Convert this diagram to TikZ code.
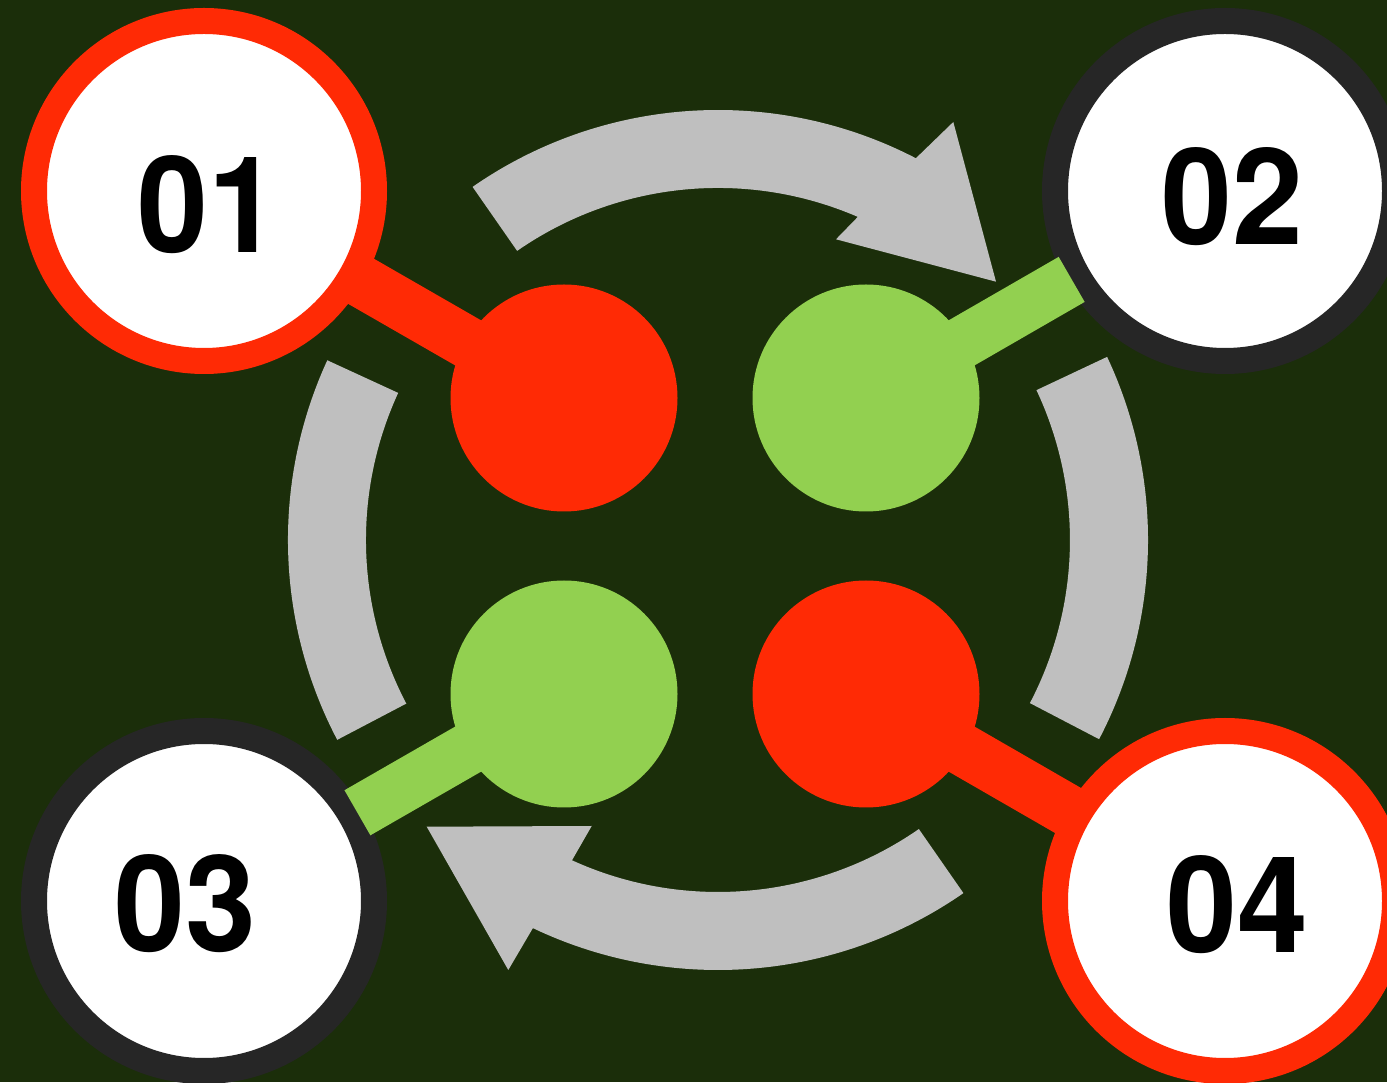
\documentclass[tikz,border=0pt]{standalone}
\usepackage{fontspec}
\setmainfont{TeX Gyre Heros}
\newfontfamily\numfont[FakeStretch=0.95]{TeX Gyre Heros}
\usetikzlibrary{calc}
\definecolor{bgc}{HTML}{1B2E0A}
\definecolor{cred}{HTML}{FF2A05}
\definecolor{cgreen}{HTML}{92D050}
\definecolor{cgray}{HTML}{BFBFBF}
\definecolor{cdark}{HTML}{262626}
\pgfdeclarelayer{back}
\pgfdeclarelayer{mid}
\pgfsetlayers{back,mid,main}
\begin{document}
\begin{tikzpicture}[x=1pt,y=1pt,
  bigc/.style={circle, draw=#1, line width=26pt, fill=white, minimum size=340pt, inner sep=0pt, outer sep=0pt},
  smallc/.style={circle, fill=#1, minimum size=227pt, inner sep=0pt, outer sep=0pt},
  barline/.style={draw=#1, line width=52pt},
  numlabel/.style={font=\numfont\fontsize{134}{134}\selectfont\bfseries, text=black, inner sep=0pt, anchor=base},
  cyclearrow/.style={fill=cgray}]
\useasboundingbox (0,0) rectangle (1387,1082);
\clip (0,0) rectangle (1387,1082);
\begin{pgfonlayer}{back}
\fill[bgc] (0,0) rectangle (1387,1082);
% top arrow
\path[cyclearrow] (472.6,895.1) arc[start angle=124.8, end angle=62.6, radius=430]
  -- (953.3,960) -- (996,800.3) -- (836,842.7) -- (857.8,865.1)
  arc[start angle=66.6, end angle=124.8, radius=352] -- cycle;
% bottom arrow
\path[cyclearrow] (963.4,188.9) arc[start angle=-55.2, end angle=-115.5, radius=430]
  -- (508.3,112) -- (426.7,255.3) -- (591.7,256) -- (572.0,221.7)
  arc[start angle=-114.5, end angle=-55.2, radius=352] -- cycle;
% left segment
\path[cyclearrow] (327.3,721.7) arc[start angle=155.3, end angle=207.7, radius=430]
  -- (406.3,378.4) arc[start angle=207.7, end angle=155.3, radius=352] -- cycle;
% right segment
\path[cyclearrow] (1107.1,725.1) arc[start angle=25.2, end angle=-27.6, radius=430]
  -- (1029.9,378.9) arc[start angle=-27.6, end angle=25.2, radius=352] -- cycle;
% big circles
\node[bigc=cred]  (n1) at (204,891) {};
\node[bigc=cdark] (n2) at (1225,891) {};
\node[bigc=cdark] (n3) at (204,181) {};
\node[bigc=cred]  (n4) at (1225,181) {};
\end{pgfonlayer}
% small circles
\node[smallc=cred]   (s1) at (564,684) {};
\node[smallc=cgreen] (s2) at (866,684) {};
\node[smallc=cgreen] (s3) at (564,388) {};
\node[smallc=cred]   (s4) at (866,388) {};
% bars
\begin{pgfonlayer}{mid}
\coordinate (e1) at ($(n1.center)!177pt!(s1.center)$);
\coordinate (e2) at ($(n2.center)!177pt!(s2.center)$);
\coordinate (e3) at ($(n3.center)!177pt!(s3.center)$);
\coordinate (e4) at ($(n4.center)!177pt!(s4.center)$);
\draw[barline=cred]   (s1.center) -- (e1);
\draw[barline=cgreen] (s2.center) -- (e2);
\draw[barline=cgreen] (s3.center) -- (e3);
\draw[barline=cred]   (s4.center) -- (e4);
\end{pgfonlayer}
% labels
\node[numlabel] (t1) at (208,829.3) {01};
\node[numlabel] (t2) at (1232,837) {02};
\node[numlabel] (t3) at (185,130.5) {03};
\node[numlabel] (t4) at (1237,129.3) {04};
\end{tikzpicture}
\end{document}
